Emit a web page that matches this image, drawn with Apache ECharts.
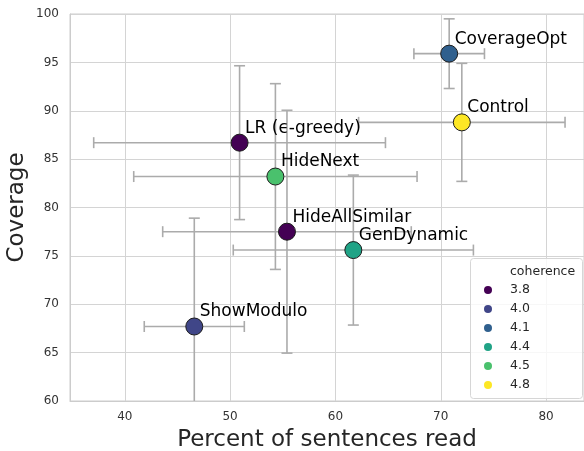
<!DOCTYPE html>
<html>
<head>
<meta charset="utf-8">
<script src="https://cdn.jsdelivr.net/npm/echarts@6/dist/echarts.min.js"></script>
<style>
  html, body { margin: 0; padding: 0; background: #fff; }
  #chart { width: 584px; height: 451px; }
</style>
</head>
<body>
<div id="chart"></div>
<script>
// valores
const nomes = ['CoverageOpt', 'Control', 'LR (ϵ-greedy)', 'HideNext', 'HideAllSimilar', 'GenDynamic', 'ShowModulo'];
const percentLido = [70.8, 72.0, 50.9, 54.3, 55.4, 61.7, 46.6];
const cobertura = [95.9, 88.8, 86.7, 83.2, 77.5, 75.6, 67.7];
const erroPercent = [3.35, 9.8, 13.85, 13.45, 11.8, 11.4, 4.75];
const erroCobertura = [3.6, 6.1, 7.95, 9.6, 12.55, 7.75, 11.2];
const coerencia = ['4.1', '4.8', '3.8', '4.5', '3.8', '4.4', '4.0'];

const niveis = ['3.8', '4.0', '4.1', '4.4', '4.5', '4.8'];
const cores = ['#440154', '#404688', '#30608e', '#20a386', '#4ac16d', '#fde725'];

const grafico = echarts.init(document.getElementById('chart'));

const dadosErro = nomes.map((n, i) => [percentLido[i], cobertura[i], erroPercent[i], erroCobertura[i]]);

function desenharErro(params, api) {
	const x = api.value(0), y = api.value(1), ex = api.value(2), ey = api.value(3);
	const l = api.coord([x - ex, y]), r = api.coord([x + ex, y]);
	const t = api.coord([x, y + ey]), b = api.coord([x, y - ey]);
	const cap = 5.5;
	const style = { stroke: '#ababab', lineWidth: 1.6 };
	const linha = (x1, y1, x2, y2) => ({ type: 'line', shape: { x1, y1, x2, y2 }, style });
	return {
		type: 'group',
		children: [
			linha(l[0], l[1], r[0], r[1]),
			linha(l[0], l[1] - cap, l[0], l[1] + cap),
			linha(r[0], r[1] - cap, r[0], r[1] + cap),
			linha(t[0], t[1], b[0], b[1]),
			linha(t[0] - cap, t[1], t[0] + cap, t[1]),
			linha(b[0] - cap, b[1], b[0] + cap, b[1])
		]
	};
}

// uma série por nível de coerência (para a legenda)
const seriesPontos = niveis.map((nv, k) => ({
	name: nv,
	type: 'scatter',
	z: 5,
	symbol: 'circle',
	symbolSize: 17,
	itemStyle: { color: cores[k], borderColor: '#1a1a1a', borderWidth: 1, opacity: 1 },
	label: {
		show: true,
		position: [14.5, -5.5],
		align: 'left',
		verticalAlign: 'middle',
		formatter: p => p.data[2],
		color: '#000',
		fontSize: 17,
		fontFamily: 'DejaVu Sans'
	},
	emphasis: { disabled: true },
	data: nomes.map((n, i) => [percentLido[i], cobertura[i], n]).filter((d, i) => coerencia[i] === nv)
}));

const option = {
	animation: false,
	textStyle: { fontFamily: 'DejaVu Sans' },
	grid: {
		left: 70, right: 0, top: 14, bottom: 50,
		containLabel: false,
		outerBoundsMode: 'none',
		show: true, borderColor: '#cccccc', borderWidth: 1
	},
	xAxis: {
		type: 'value',
		min: 34.8, max: 83.6,
		splitNumber: 5,
		name: 'Percent of sentences read',
		nameLocation: 'middle',
		nameGap: 28,
		nameMoveOverlap: false,
		nameTextStyle: { fontSize: 23, color: '#262626' },
		axisLine: { show: true, lineStyle: { color: '#cccccc', width: 1 } },
		axisTick: { show: false },
		axisLabel: { fontSize: 12, color: '#333', margin: 10, showMinLabel: false, showMaxLabel: false },
		splitLine: { lineStyle: { color: '#d4d4d4', width: 1 } }
	},
	yAxis: {
		type: 'value',
		min: 60, max: 100, interval: 5,
		name: 'Coverage',
		nameLocation: 'middle',
		nameGap: 41,
		nameMoveOverlap: false,
		nameTextStyle: { fontSize: 23, color: '#262626' },
		axisLine: { show: true, lineStyle: { color: '#cccccc', width: 1 } },
		axisTick: { show: false },
		axisLabel: { fontSize: 12, color: '#333', margin: 11 },
		splitLine: { lineStyle: { color: '#d4d4d4', width: 1 } }
	},
	legend: {
		data: niveis,
		orient: 'vertical',
		left: 483, top: 259,
		padding: [24, 0, 0, 1],
		itemWidth: 34, itemHeight: 8, itemGap: 5,
		icon: 'circle',
		itemStyle: { borderWidth: 0 },
		textStyle: { fontSize: 12.5, color: '#262626', lineHeight: 14 },
		selectedMode: false
	},
	graphic: [{
		type: 'rect', z: 3,
		shape: { x: 470.5, y: 258.5, width: 112, height: 140, r: 3 },
		style: { fill: 'rgba(255,255,255,0.8)', stroke: '#d6d6d6', lineWidth: 1 }
	}, {
		type: 'text', left: 510, top: 265, z: 100,
		style: { text: 'coherence', fontSize: 12.5, fill: '#262626', fontFamily: 'DejaVu Sans' }
	}],
	series: [{
		type: 'custom',
		z: 2,
		clip: true,
		renderItem: desenharErro,
		data: dadosErro,
		silent: true
	}].concat(seriesPontos)
};

grafico.setOption(option);
</script>
</body>
</html>
